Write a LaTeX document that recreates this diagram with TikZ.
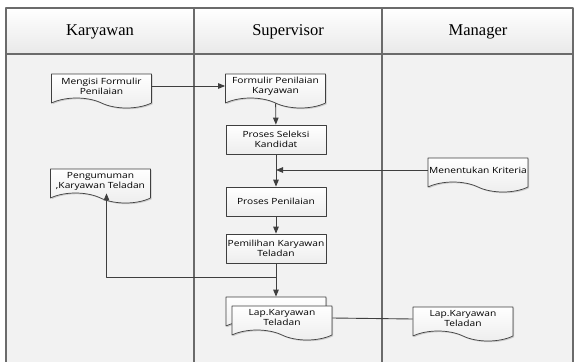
\documentclass[tikz,border=0pt]{standalone}
\usepackage{fontspec}
\setmainfont{Liberation Serif}
\newfontfamily\boxfont[FakeStretch=1.2]{Open Sans}
\usetikzlibrary{arrows.meta,shapes.symbols,shadows}
\definecolor{laneInk}{HTML}{3F3F3F}
\definecolor{laneRule}{HTML}{6B6B6B}
\definecolor{laneFill}{HTML}{F2F2F2}
\definecolor{laneHead}{HTML}{E9E9E9}
\definecolor{boxLow}{HTML}{EDEDED}

\begin{document}
\begin{tikzpicture}[x=1pt,y=-1pt,>={Triangle[length=7pt,width=5.5pt]},line join=round]
\useasboundingbox (0,0) rectangle (574,362);
\path[fill=white] (0,0) rectangle (574,362);
\tikzset{lanerule/.style={draw=laneRule,line width=1.2pt},flow/.style={draw=laneInk,line width=0.9pt},
  lanehead/.style={font=\fontsize{16.5}{18}\selectfont},
  procbox/.style={draw=laneInk,line width=0.7pt,top color=white,bottom color=boxLow,minimum width=100pt,minimum height=29pt,inner sep=1pt,align=center,font=\boxfont\fontsize{8.5}{10}\selectfont,drop shadow={shadow xshift=1.2pt,shadow yshift=-1.2pt,opacity=0.35}},
  docbox/.style={procbox,tape,tape bend top=none,tape bend bottom=out and in,tape bend height=10pt,minimum height=34pt}}
% swimlanes
\path[fill=laneFill] (6,54) rectangle (573,362);
\path[top color=white,bottom color=laneHead] (6,8) rectangle (573,54);
\draw[lanerule] (6,362) -- (6,8) -- (573,8) -- (573,362);
\draw[lanerule] (6,54) -- (573,54);
\draw[lanerule] (194,8) -- (194,362); \draw[lanerule] (382,8) -- (382,362);
\node[lanehead] (hKaryawan) at (100,32) {Karyawan};
\node[lanehead] (hSupervisor) at (288,32) {Supervisor};
\node[lanehead] (hManager) at (478,32) {Manager};
% flow
\node[docbox] (mengisi) at (101.5,86) {Mengisi Formulir\\Penilaian};
\node[docbox] (formulir) at (275.5,86) {Formulir Penilaian\\Karyawan};
\node[procbox] (seleksi) at (276,139.5) {Proses Seleksi\\Kandidat};
\node[docbox] (kriteria) at (478,170) {Menentukan Kriteria};
\node[procbox] (penilaian) at (276,201.5) {Proses Penilaian};
\node[procbox] (pemilihan) at (276,248.5) {Pemilihan Karyawan\\Teladan};
\node[docbox] (pengumuman) at (100.5,181) {Pengumuman\\,Karyawan Teladan};
\node[docbox] (lapBack) at (276,309) {};
\node[docbox] (lapFront) at (282,318) {Lap.Karyawan\\Teladan};
\node[docbox] (lapManager) at (463,319) {Lap.Karyawan\\Teladan};
\draw[flow,->] (mengisi.east) -- (formulir.west);
\draw[flow,->] (formulir) -- (seleksi);
\draw[flow,->] (seleksi) -- (penilaian);
\draw[flow,->] (kriteria.west) -- (kriteria.west -| seleksi.south);
\draw[flow,->] (penilaian) -- (pemilihan);
\draw[flow,->] (pemilihan) -- (lapBack);
\draw[flow,->] (pemilihan.south) -- ++(0,14) -| ([xshift=6pt]pengumuman.south);
\draw[flow] (lapFront.east) -- (lapManager.west);
\end{tikzpicture}
\end{document}
